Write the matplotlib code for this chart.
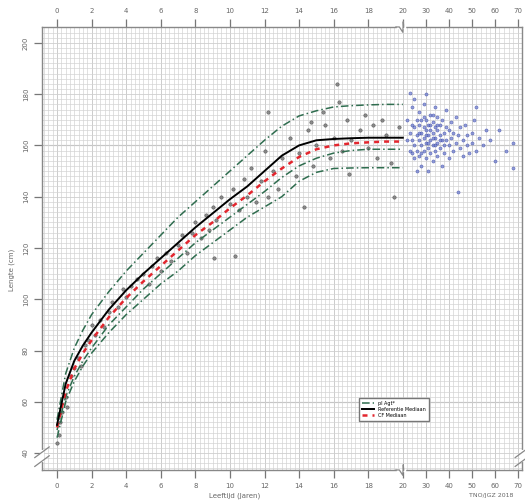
import numpy as np
import matplotlib
matplotlib.use("Agg")
import matplotlib.pyplot as plt
import matplotlib.transforms as mtransforms

# Reference curves (age in years, length in cm)
ages = [0, 0.5, 1, 1.5, 2, 3, 4, 5, 6, 7, 8, 9, 10, 11, 12, 13, 14, 15, 16, 17, 18, 19, 20]
ref_median = [51, 67, 76, 82, 87, 96, 103.5, 110, 116, 122, 128, 133.5, 139, 144, 150, 156, 160, 162,
              162.5, 162.8, 163, 163, 163]
cf_median = [50, 64, 73, 79, 84, 93, 100.5, 107, 113, 119, 125, 130, 135.5, 140.5, 146, 151, 155.5,
             158.5, 160, 160.8, 161.2, 161.5, 161.5]
p_upper = [53, 71, 81, 88, 94, 103, 111, 118, 125, 132, 138, 144, 150, 156, 162, 167.5, 171.5, 173.5,
           175, 175.5, 175.8, 176, 176]
p_inner = [49, 62, 70, 76, 81, 90, 97, 104, 110, 116, 122, 127, 132, 137, 142, 147.5, 152, 155,
           157, 158, 158.5, 158.5, 158.5]
p_lower = [46, 60, 68, 74, 79, 87, 94, 100, 106, 111, 117, 122, 127, 132, 136, 140, 146, 149.5,
           151, 151.2, 151.3, 151.3, 151.3]

# Patient measurements, childhood (grey)
child_age = [0, 0.1, 0.2, 0.3, 0.5, 0.6, 0.8, 1.0, 1.2, 1.4, 1.6, 1.8, 2.0, 2.2, 2.5, 2.7, 3.0, 3.2,
             3.5, 3.8, 4.0, 4.3, 4.6, 5.0, 5.3, 5.5, 5.8, 6.0, 6.3, 6.6, 7.0, 7.2, 7.5, 7.8, 8.0, 8.3,
             8.6, 8.8, 9.0, 9.1, 9.2, 9.5, 10.0, 10.2, 10.3, 10.5, 10.8, 11.0, 11.2, 11.5, 11.8, 12.0,
             12.2, 12.2, 12.5, 12.8, 13.0, 13.5, 13.8, 14.0, 14.3, 14.5, 14.7, 14.8, 15.0, 15.4, 15.5,
             15.8, 16.0, 16.2, 16.3, 16.5, 16.8, 16.9, 17.0, 17.5, 17.8, 18.0, 18.3, 18.5, 18.8, 19.0,
             19.3, 19.5, 19.8]
child_len = [44, 47, 52, 56, 62, 58, 70, 73, 77, 74, 82, 84, 90, 86, 92, 89, 95, 99,
             97, 104, 101, 105, 108, 110, 106, 113, 116, 111, 118, 115, 121, 125, 118, 126, 130, 124,
             133, 127, 136, 116, 131, 140, 137, 143, 117, 135, 147, 140, 151, 138, 146, 158,
             140, 173, 150, 143, 155, 163, 148, 157, 136, 166, 169, 152, 160, 173, 168,
             155, 163, 184, 177, 158, 170, 149, 162, 166, 172, 159, 168, 155, 170, 164,
             153, 140, 167]

# Patient measurements, adults (blue)
adult_age = [22, 23, 23, 24, 24, 25, 25, 25, 26, 26, 26, 27, 27, 27, 27, 28, 28, 28, 28, 29, 29, 29,
             29, 30, 30, 30, 30, 30, 31, 31, 31, 31, 32, 32, 32, 32, 33, 33, 33, 33, 34, 34, 34, 34,
             35, 35, 35, 35, 36, 36, 36, 37, 37, 37, 38, 38, 38, 39, 39, 39, 40, 40, 40, 41, 41, 42,
             42, 43, 43, 44, 44, 45, 45, 46, 46, 47, 48, 48, 49, 50, 50, 51, 52, 52, 53, 55, 56, 58,
             60, 62, 65, 68, 68, 23, 25, 22, 24, 26, 27, 28, 29, 31, 32, 33, 34, 35, 36, 24, 30, 33]
adult_len = [170, 165, 158, 162, 175, 160, 167, 155, 164, 170, 158, 162, 168, 173, 156, 165, 160, 152,
             170, 163, 167, 158, 176, 161, 166, 170, 155, 180, 164, 159, 168, 150, 162, 172, 157, 166,
             165, 160, 169, 154, 163, 158, 175, 167, 161, 166, 156, 171, 164, 159, 168, 162, 170, 152,
             165, 160, 157, 167, 162, 174, 160, 166, 155, 163, 169, 158, 165, 161, 171, 164, 142, 159,
             167, 162, 156, 168, 160, 164, 157, 165, 161, 170, 175, 158, 163, 160, 166, 162, 154, 166,
             158, 161, 151, 180.5, 178, 162, 168, 150, 165, 157, 171, 161, 168, 163, 160, 168, 162,
             157, 164, 172]

x_ticks = [0, 2, 4, 6, 8, 10, 12, 14, 16, 18, 20, 30, 40, 50, 60, 70]
y_ticks = [40, 60, 80, 100, 120, 140, 160, 180, 200]

# broken x axis: linear up to 20 years, compressed after that
def fwd(x):
    x = np.asarray(x, dtype=float)
    return np.where(x <= 20, x, 20 + (x - 20) * 0.133)

def inv(t):
    t = np.asarray(t, dtype=float)
    return np.where(t <= 20, t, 20 + (t - 20) / 0.133)

fig = plt.figure(figsize=(5.25, 5.04), dpi=100)
ax = fig.add_axes([0.08, 0.0675, 0.915, 0.879])
ax.set_xscale("function", functions=(fwd, inv))
ax.set_xlim(-0.87, 72)
ax.set_ylim(33.4, 206.2)

# fine grid
minor_x = list(np.arange(-0.75, 20.01, 0.25)) + list(np.arange(22, 72, 2))
ax.set_xticks(minor_x, minor=True)
ax.set_yticks(np.arange(34, 207, 2), minor=True)
ax.grid(which="minor", color="#d4d4d4", lw=0.5)
ax.grid(which="major", axis="x", color="#c4c4c4", lw=0.6)
ax.grid(which="major", axis="y", color="#cfcfcf", lw=0.6)
for yv in [60, 160]:
    ax.axhline(yv, color="#9a9a9a", lw=0.8, zorder=0.5)
ax.tick_params(which="minor", length=0)

ax.set_xticks(x_ticks)
ax.set_xticklabels([str(v) for v in x_ticks])
ax.set_yticks(y_ticks)
ax.set_yticklabels([str(v) for v in y_ticks], rotation=90, va="center")
ax.tick_params(which="major", direction="out", length=6, width=0.9, color="#777777",
               labelsize=5, labelcolor="#666666", top=True, labeltop=True)
for sp in ax.spines.values():
    sp.set_color("#888888")
    sp.set_linewidth(1.0)

# data
green = "#2f6d4f"
ax.scatter(child_age, child_len, s=6, color="#7a7a7a", edgecolor="#4a4a4a", linewidth=0.4,
           alpha=0.85, zorder=3)
ax.scatter(adult_age, adult_len, s=5, color="#6f7fd0", edgecolor="#2f3da0", linewidth=0.4,
           alpha=0.7, zorder=3)
ax.plot(ages, p_upper, color=green, lw=1.1, ls=(0, (5, 2, 1, 2)), zorder=4, label="pl Agt*")
ax.plot(ages, p_inner, color=green, lw=1.1, ls=(0, (5, 2, 1, 2)), zorder=4)
ax.plot(ages, p_lower, color=green, lw=1.1, ls=(0, (5, 2, 1, 2)), zorder=4)
ax.plot(ages, ref_median, color="black", lw=1.4, zorder=6, label="Referentie Mediaan")
ax.plot(ages, cf_median, color="#e3262e", lw=1.8, ls=(0, (2, 2)), zorder=5, label="CF Mediaan")

# axis break marks
btrans = mtransforms.blended_transform_factory(ax.transData, ax.transAxes)
for yb in [0, 1]:
    ax.plot([19.75, 20.35], [yb, yb], color="white", lw=2.5, transform=btrans, clip_on=False, zorder=7)
    ax.plot([19.6, 19.8, 20.0, 20.2, 20.4], [yb, yb, yb - 0.012, yb + 0.012, yb],
            color="#888888", lw=0.9, transform=btrans, clip_on=False, zorder=8)
for xb in [0, 1]:
    ax.plot([xb, xb], [0.022, 0.04], color="white", lw=3, transform=ax.transAxes, clip_on=False, zorder=7)
    for yb in [0.02, 0.04]:
        ax.plot([xb - 0.015, xb + 0.015], [yb - 0.012, yb + 0.012], color="#888888", lw=0.9,
                transform=ax.transAxes, clip_on=False, zorder=8)

ax.legend(loc="lower left", bbox_to_anchor=(0.655, 0.105), fontsize=3.5, handlelength=2.5,
          frameon=True, fancybox=False, edgecolor="#777777", framealpha=1, borderpad=0.6,
          labelspacing=0.2)

fig.text(0.447, 0.013, "Leeftijd (Jaren)", fontsize=5, color="#666666", ha="center")
fig.text(0.935, 0.013, "TNO/JGZ 2018", fontsize=4.5, color="#666666", ha="center")
fig.text(0.016, 0.465, "Lengte (cm)", fontsize=5, color="#666666", rotation=90, va="center")

fig.savefig("out.png", dpi=100)
